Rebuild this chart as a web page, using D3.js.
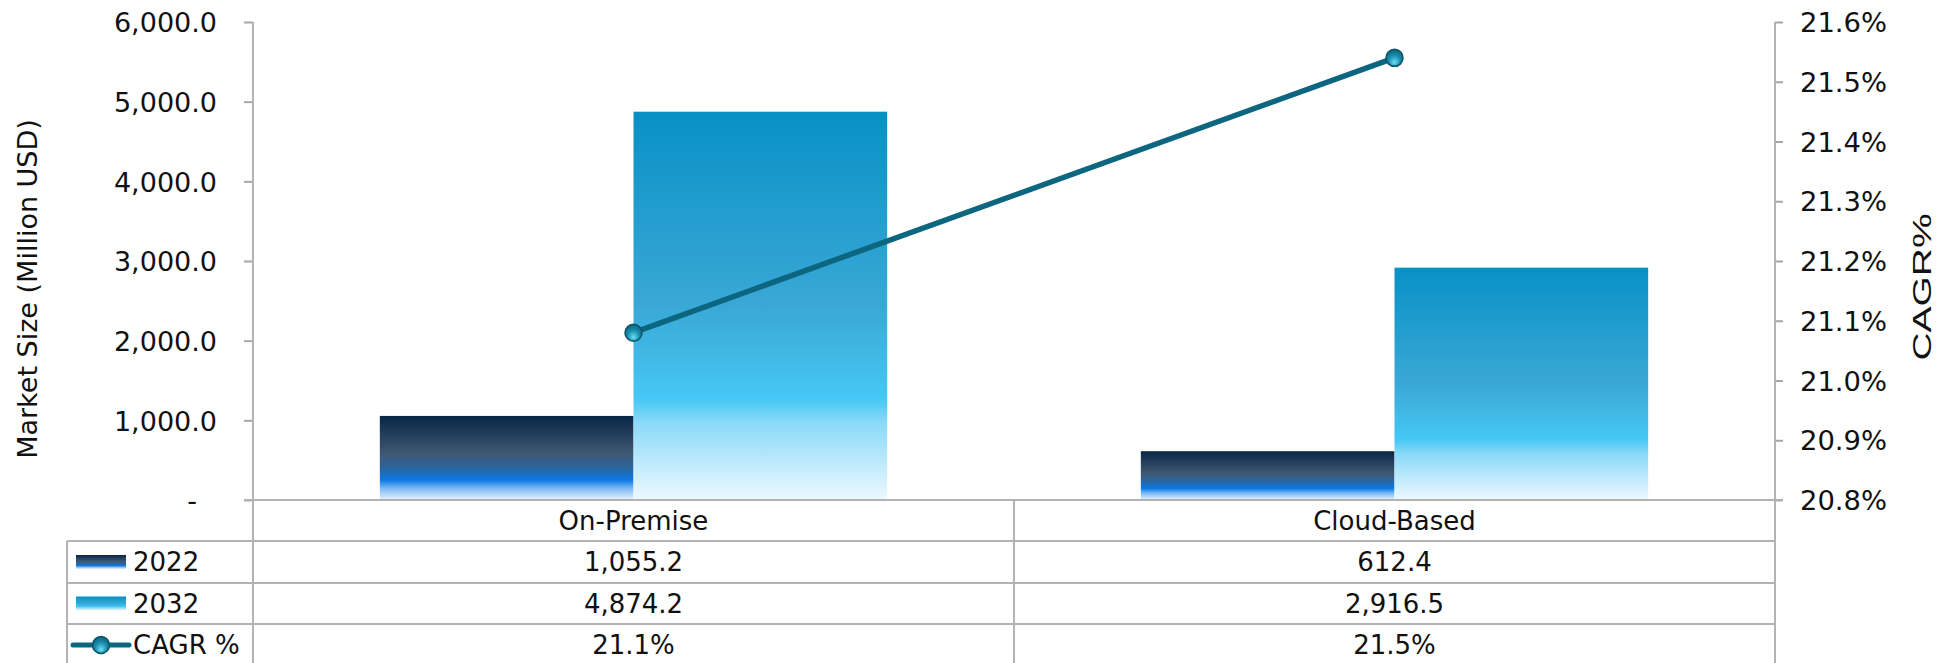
<!DOCTYPE html>
<html lang="en">
<head>
    <meta charset="UTF-8">
    <title>Market Size by Deployment</title>
    <script src="https://d3js.org/d3.v7.min.js"></script>
    <style>
        body { margin: 0; background: #fff; }
        svg text { font-family: "DejaVu Sans", Verdana, sans-serif; fill: #111; }
        .grid line { stroke: #b3b3b3; stroke-width: 2px; }
    </style>
</head>
<body>
    <svg id="chart"></svg>

    <script>
        // Datos
        const categories = ["On-Premise", "Cloud-Based"];
        const series = ["2022", "2032"];
        const values2022 = [1055.2, 612.4];
        const values2032 = [4874.2, 2916.5];
        const cagr = [21.08, 21.54];
        const leftTicks = [0, 1000, 2000, 3000, 4000, 5000, 6000];
        const rightTicks = [20.8, 20.9, 21.0, 21.1, 21.2, 21.3, 21.4, 21.5, 21.6];

        const W = 1938, H = 663;
        const plotLeft = 253, plotRight = 1775, plotTop = 22, plotBottom = 500;
        const tableLeft = 67;
        const rowLines = [500, 541, 583, 624, 666];

        const svg = d3.select("#chart").attr("width", W).attr("height", H);

        // Gradientes
        const defs = svg.append("defs");
        function linGrad(id, stops) {
            const g = defs.append("linearGradient").attr("id", id)
                .attr("x1", 0).attr("y1", 0).attr("x2", 0).attr("y2", 1);
            stops.forEach(s => g.append("stop").attr("offset", s[0]).attr("stop-color", s[1]));
        }
        linGrad("g2022", [[0, "#082646"], [0.45, "#3f5873"], [0.62, "#2a659e"], [0.76, "#0a78e6"], [0.86, "#7ab8f4"], [1, "#eaf4ff"]]);
        linGrad("g2032", [[0, "#0891c6"], [0.5, "#3aa8d6"], [0.74, "#46c7f5"], [0.8, "#8ad9f8"], [1, "#eef9ff"]]);
        const rg = defs.append("radialGradient").attr("id", "gMarker")
            .attr("cx", "50%").attr("cy", "60%").attr("r", "60%").attr("fx", "50%").attr("fy", "80%");
        rg.append("stop").attr("offset", 0).attr("stop-color", "#6fe0f5");
        rg.append("stop").attr("offset", 0.55).attr("stop-color", "#1b8fb0");
        rg.append("stop").attr("offset", 1).attr("stop-color", "#0c5f78");

        const colorFill = { "2022": "url(#g2022)", "2032": "url(#g2032)" };
        const values = { "2022": values2022, "2032": values2032 };

        // Escalas
        const x = d3.scaleBand().domain(categories).range([plotLeft, plotRight]).padding(0);
        const xSub = d3.scaleBand().domain(series).range([0, x.bandwidth()]).paddingInner(0).paddingOuter(0.5);
        const yLeft = d3.scaleLinear().domain([0, 6000]).range([plotBottom, plotTop]);
        const yRight = d3.scaleLinear().domain([20.8, 21.6]).range([plotBottom, plotTop]);

        const fmtNum = d3.format(",.1f");
        const fmtPct = d => d3.format(".1f")(d) + "%";

        // Ejes
        const leftAxis = svg.append("g")
            .attr("transform", `translate(${plotLeft},0)`)
            .call(d3.axisLeft(yLeft).tickValues(leftTicks).tickSize(9).tickPadding(27)
                .tickFormat(d => d === 0 ? "-" : fmtNum(d)));
        leftAxis.selectAll("text").attr("font-size", 27)
            .attr("dx", d => d === 0 ? -20 : 0).attr("dy", "0.36em");

        const rightAxis = svg.append("g")
            .attr("transform", `translate(${plotRight},0)`)
            .call(d3.axisRight(yRight).tickValues(rightTicks).tickSize(8).tickPadding(17)
                .tickFormat(fmtPct));
        rightAxis.selectAll("text").attr("font-size", 27).attr("dy", "0.36em")
            .attr("textLength", 87).attr("lengthAdjust", "spacingAndGlyphs");

        [leftAxis, rightAxis].forEach(a => {
            a.select(".domain").remove();
            a.selectAll(".tick line").attr("stroke", "#a6a6a6").attr("stroke-width", 2);
        });

        // Barras
        categories.forEach((c, i) => {
            series.forEach(s => {
                const v = values[s][i];
                svg.append("rect")
                    .attr("x", x(c) + xSub(s))
                    .attr("y", yLeft(v))
                    .attr("width", xSub.bandwidth())
                    .attr("height", yLeft(0) - yLeft(v))
                    .attr("fill", colorFill[s]);
            });
        });

        // Tabla de datos
        const grid = svg.append("g").attr("class", "grid");
        grid.append("line").attr("x1", plotLeft).attr("x2", plotLeft).attr("y1", plotTop).attr("y2", H);
        grid.append("line").attr("x1", plotRight).attr("x2", plotRight).attr("y1", plotTop).attr("y2", H);
        grid.append("line").attr("x1", tableLeft).attr("x2", tableLeft).attr("y1", rowLines[1]).attr("y2", H);
        grid.append("line").attr("x1", x(categories[1])).attr("x2", x(categories[1])).attr("y1", plotBottom).attr("y2", H);
        grid.append("line").attr("x1", plotLeft - 9).attr("x2", plotRight + 8).attr("y1", plotBottom).attr("y2", plotBottom);
        rowLines.slice(1).forEach(y => {
            grid.append("line").attr("x1", tableLeft).attr("x2", plotRight).attr("y1", y).attr("y2", y);
        });

        const rowMid = i => (rowLines[i] + rowLines[i + 1]) / 2;

        categories.forEach((c, i) => {
            const cx = x(c) + x.bandwidth() / 2;
            svg.append("text").attr("x", cx).attr("y", rowMid(0)).attr("dy", "0.36em")
                .attr("text-anchor", "middle").attr("font-size", 26).text(c);
            svg.append("text").attr("x", cx).attr("y", rowMid(1)).attr("dy", "0.36em")
                .attr("text-anchor", "middle").attr("font-size", 26).text(fmtNum(values2022[i]));
            svg.append("text").attr("x", cx).attr("y", rowMid(2)).attr("dy", "0.36em")
                .attr("text-anchor", "middle").attr("font-size", 26).text(fmtNum(values2032[i]));
            svg.append("text").attr("x", cx).attr("y", rowMid(3)).attr("dy", "0.36em")
                .attr("text-anchor", "middle").attr("font-size", 26).text(fmtPct(cagr[i]));
        });

        // Leyenda en la tabla
        series.forEach((s, i) => {
            svg.append("rect").attr("x", 76).attr("y", rowMid(i + 1) - 7)
                .attr("width", 50).attr("height", 14).attr("fill", colorFill[s]);
            svg.append("text").attr("x", 133).attr("y", rowMid(i + 1)).attr("dy", "0.36em")
                .attr("font-size", 26).text(s);
        });
        svg.append("line").attr("x1", 73).attr("x2", 129).attr("y1", rowMid(3)).attr("y2", rowMid(3))
            .attr("stroke", "#0c6680").attr("stroke-width", 5).attr("stroke-linecap", "round");
        svg.append("circle").attr("cx", 101).attr("cy", rowMid(3)).attr("r", 8.5)
            .attr("fill", "url(#gMarker)").attr("stroke", "#0a5568").attr("stroke-width", 1.5);
        svg.append("text").attr("x", 133).attr("y", rowMid(3)).attr("dy", "0.36em")
            .attr("font-size", 26).text("CAGR %");

        // Linea CAGR
        const pts = categories.map((c, i) => [x(c) + x.bandwidth() / 2, yRight(cagr[i])]);
        svg.append("path").attr("d", d3.line()(pts))
            .attr("fill", "none").attr("stroke", "#0c6680").attr("stroke-width", 5.5);
        svg.selectAll(".marker").data(pts).enter().append("circle")
            .attr("class", "marker")
            .attr("cx", d => d[0]).attr("cy", d => d[1]).attr("r", 8.5)
            .attr("fill", "url(#gMarker)").attr("stroke", "#0a5568").attr("stroke-width", 1.5);

        // Titulos de ejes
        svg.append("text")
            .attr("transform", `translate(37,289) rotate(-90)`)
            .attr("text-anchor", "middle").attr("font-size", 27)
            .text("Market Size (Million USD)");
        svg.append("text")
            .attr("transform", `translate(1931,287) rotate(-90)`)
            .attr("text-anchor", "middle").attr("font-size", 26)
            .style("font-family", "'Liberation Sans', Arial, sans-serif")
            .attr("textLength", 147).attr("lengthAdjust", "spacingAndGlyphs")
            .text("CAGR%");
    </script>
</body>
</html>
